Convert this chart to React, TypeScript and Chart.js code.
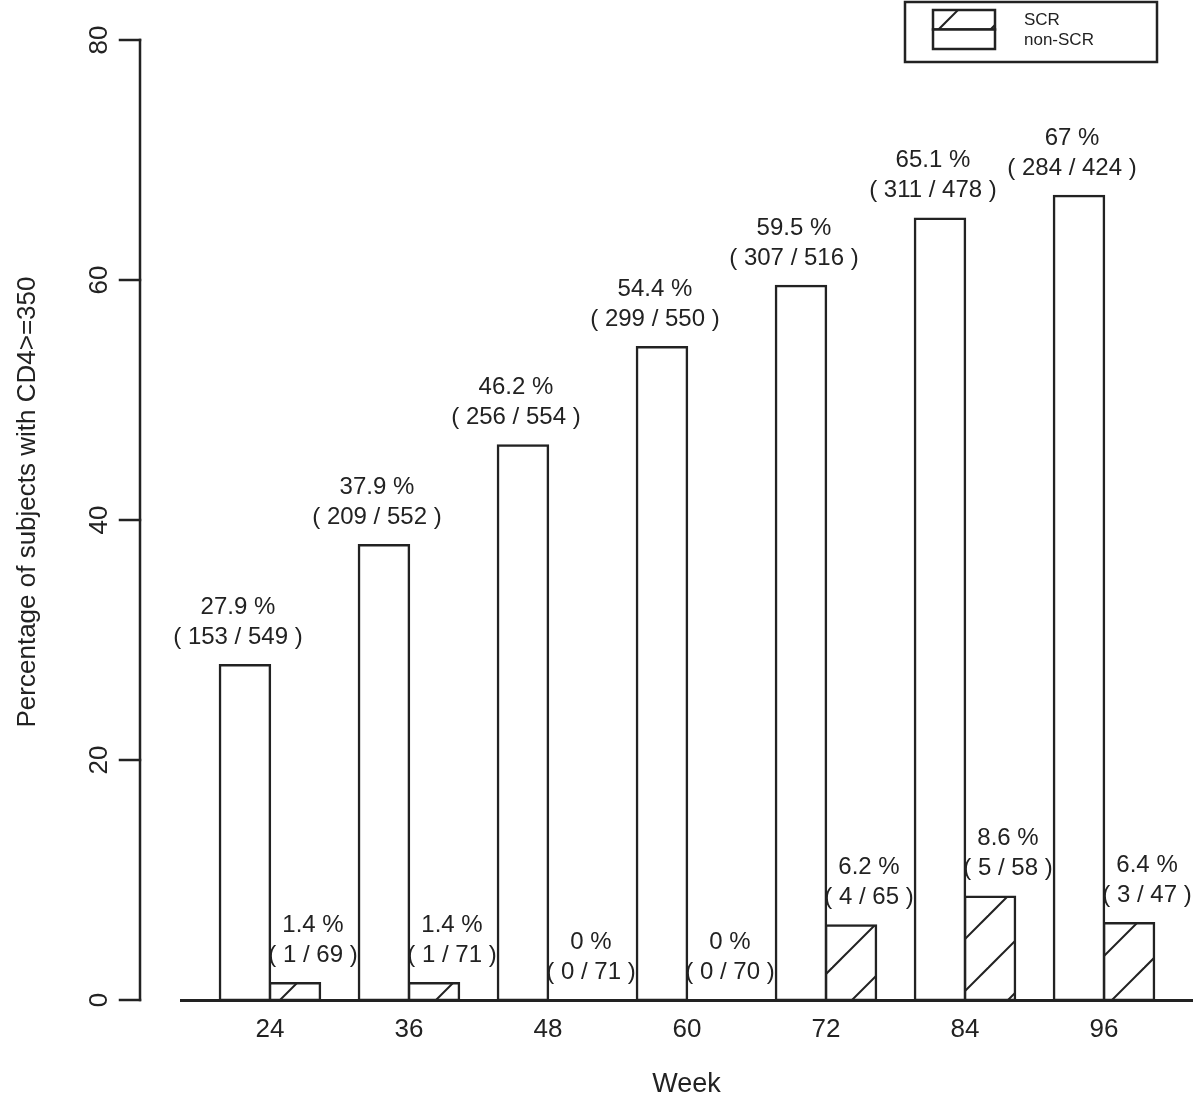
import React, { useEffect, useRef } from 'react';
import { Chart, registerables } from 'chart.js';

Chart.register(...registerables);

// ---- data ----
const WEEKS = [24, 36, 48, 60, 72, 84, 96];
const NON_SCR_PCT = [27.9, 37.9, 46.2, 54.4, 59.5, 65.1, 67];
const NON_SCR_N = [153, 209, 256, 299, 307, 311, 284];
const NON_SCR_TOTAL = [549, 552, 554, 550, 516, 478, 424];
const SCR_PCT = [1.4, 1.4, 0, 0, 6.2, 8.6, 6.4];
const SCR_N = [1, 1, 0, 0, 4, 5, 3];
const SCR_TOTAL = [69, 71, 71, 70, 65, 58, 47];
const Y_TICKS = [0, 20, 40, 60, 80];
const SERIES = ['non-SCR', 'SCR'];
const X_TITLE = 'Week';
const Y_TITLE = 'Percentage of subjects with CD4>=350';

// ---- style ----
const INK = '#222';
const FONT = '"Liberation Sans", Arial, Helvetica, sans-serif';

export default function App() {
  const ref = useRef<HTMLCanvasElement>(null);

  useEffect(() => {
    const canvas = ref.current!;
    const P = 52;
    const tile = document.createElement('canvas');
    tile.width = P;
    tile.height = P;
    const tctx = tile.getContext('2d')!;
    tctx.fillStyle = '#fff';
    tctx.fillRect(0, 0, P, P);
    tctx.strokeStyle = INK;
    tctx.lineWidth = 2;
    for (const b of [32 - P, 32, 32 + P]) {
      tctx.beginPath();
      tctx.moveTo(b + 6, -6);
      tctx.lineTo(-6, b + 6);
      tctx.stroke();
    }
    const hatch = canvas.getContext('2d')!.createPattern(tile, 'repeat')!;

    const counts = [
      { n: NON_SCR_N, t: NON_SCR_TOTAL, pct: NON_SCR_PCT, dx: -7 },
      { n: SCR_N, t: SCR_TOTAL, pct: SCR_PCT, dx: 18 },
    ];

    const decor = {
      id: 'decor',
      afterDatasetsDraw(chart: any) {
        const ctx = chart.ctx as CanvasRenderingContext2D;
        ctx.save();
        ctx.fillStyle = INK;
        ctx.font = `24px ${FONT}`;
        ctx.textAlign = 'center';
        ctx.textBaseline = 'middle';
        counts.forEach((c, di) => {
          const meta = chart.getDatasetMeta(di);
          meta.data.forEach((el: any, i: number) => {
            const cx = el.x + c.dx;
            ctx.fillText(`${c.pct[i]} %`, cx, el.y - 58);
            ctx.fillText(`( ${c.n[i]} / ${c.t[i]} )`, cx, el.y - 28);
          });
        });
        ctx.restore();
      },
      afterDraw(chart: any) {
        const ctx = chart.ctx as CanvasRenderingContext2D;
        const ys = chart.scales.y;
        const area = chart.chartArea;
        const axX = area.left - 41;
        ctx.save();
        ctx.strokeStyle = INK;
        ctx.fillStyle = INK;
        ctx.lineWidth = 2.5;
        ctx.lineCap = 'square';
        ctx.beginPath();
        ctx.moveTo(axX, ys.getPixelForValue(ys.min));
        ctx.lineTo(axX, ys.getPixelForValue(ys.max));
        ctx.stroke();
        ctx.font = `26px ${FONT}`;
        ctx.textAlign = 'center';
        ctx.textBaseline = 'middle';
        ys.ticks.forEach((t: any) => {
          const py = ys.getPixelForValue(t.value);
          ctx.beginPath();
          ctx.moveTo(axX - 20, py);
          ctx.lineTo(axX, py);
          ctx.stroke();
          ctx.save();
          ctx.translate(axX - 40, py);
          ctx.rotate(-Math.PI / 2);
          ctx.fillText(String(t.value), 0, 0);
          ctx.restore();
        });
        // y title
        ctx.save();
        ctx.font = `26px ${FONT}`;
        ctx.translate(28, (area.top + area.bottom) / 2 - 18);
        ctx.rotate(-Math.PI / 2);
        ctx.fillText(Y_TITLE, 0, 0);
        ctx.restore();

        // legend
        const L = { x: 905, y: 2, w: 252, h: 60, sx: 933, sw: 62, top: 10, rh: 19.5, tx: 1024 };
        ctx.lineCap = 'butt';
        ctx.strokeRect(L.x, L.y, L.w, L.h);
        const ds = [...chart.data.datasets].reverse();
        ctx.font = `17px ${FONT}`;
        ctx.textAlign = 'left';
        ds.forEach((d: any, k: number) => {
          const ry = L.top + k * L.rh;
          ctx.fillStyle = d.backgroundColor;
          ctx.fillRect(L.sx, ry, L.sw, L.rh);
          ctx.strokeRect(L.sx, ry, L.sw, L.rh);
          ctx.fillStyle = INK;
          ctx.fillText(d.label, L.tx, ry + L.rh / 2 + 1);
        });
        ctx.restore();
      },
    };

    const barStyle = {
      borderColor: INK,
      borderWidth: 2.5,
      borderSkipped: false as const,
      inflateAmount: 1.25,
      categoryPercentage: 0.72,
      barPercentage: 1,
    };

    const chart = new Chart(canvas, {
      type: 'bar',
      data: {
        datasets: [
          {
            label: SERIES[0],
            data: WEEKS.map((w, i) => ({ x: w, y: NON_SCR_PCT[i] })),
            backgroundColor: '#fff',
            ...barStyle,
          },
          {
            label: SERIES[1],
            data: WEEKS.map((w, i) => ({ x: w, y: SCR_PCT[i] })),
            backgroundColor: hatch as any,
            ...barStyle,
          },
        ],
      },
      options: {
        responsive: false,
        animation: false,
        layout: { padding: { left: 181, right: 8, top: 40, bottom: 0 } },
        plugins: { legend: { display: false }, tooltip: { enabled: false } },
        scales: {
          x: {
            type: 'linear',
            offset: false,
            min: WEEKS[0] - 0.64 * 12,
            max: WEEKS[WEEKS.length - 1] + 0.633 * 12,
            afterBuildTicks: (s: any) => {
              s.ticks = WEEKS.map((v) => ({ value: v }));
            },
            afterFit: (s: any) => {
              s.height = 102;
            },
            grid: { display: false, drawTicks: false, offset: false },
            border: { display: true, color: INK, width: 3 },
            ticks: {
              color: INK,
              font: { family: FONT, size: 26 },
              padding: 14,
              autoSkip: false,
              maxRotation: 0,
              callback: (v: any) => String(v),
            },
            title: {
              display: true,
              text: X_TITLE,
              color: INK,
              font: { family: FONT, size: 27 },
              padding: { top: 0, bottom: 1 },
            },
          },
          y: {
            display: false,
            min: Y_TICKS[0],
            max: Y_TICKS[Y_TICKS.length - 1],
            afterBuildTicks: (s: any) => {
              s.ticks = Y_TICKS.map((v) => ({ value: v }));
            },
          },
        },
      },
      plugins: [decor],
    });
    return () => chart.destroy();
  }, []);

  return (
    <div style={{ position: 'absolute', left: 0, top: 0, width: 1200, height: 1102, background: '#fff' }}>
      <canvas ref={ref} width={1200} height={1102} style={{ display: 'block' }} />
    </div>
  );
}
